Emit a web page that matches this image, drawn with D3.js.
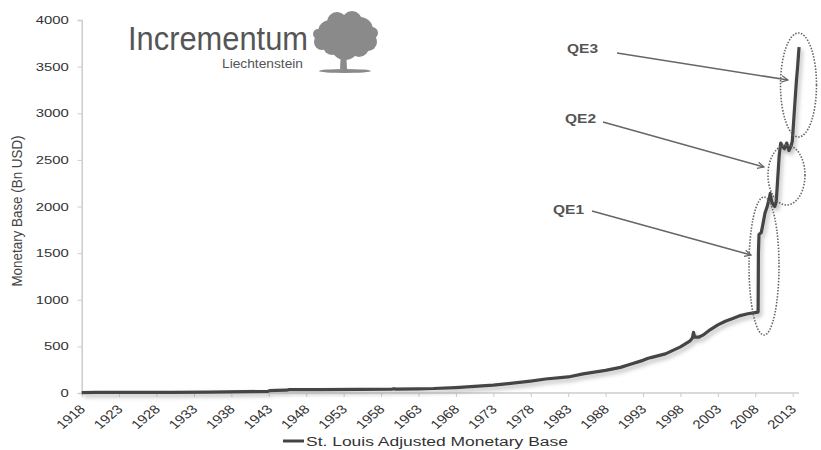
<!DOCTYPE html>
<html><head><meta charset="utf-8">
<script src="https://cdn.jsdelivr.net/npm/d3@7"></script>
<style>body{margin:0;background:#fff}svg{display:block;font-family:"Liberation Sans",Arial,sans-serif}</style>
</head><body><svg id="c" width="821" height="450"></svg>
<script>
// Data (decimal year, Bn USD)
const dates = [1918,1920,1925,1930,1935,1940,1942.9,1943.2,1944,1945.4,1945.7,1950,1955,1959.4,1959.7,1960,1963,1965,1968,1970,1973,1975,1978,1980,1983,1985,1988,1990,1991,1993,1993.7,1994.3,1996,1998,1999.3,1999.6,1999.75,1999.9,2000.5,2001,2002,2003,2004,2005,2006,2007,2008.36,
 2008.38,2008.42,2008.5,2008.8,2009.0,2009.3,2009.6,2009.9,2010.0,2010.2,2010.4,2010.6,2010.8,2011.0,2011.2,2011.4,2011.6,2011.9,2012.2,2012.5,2012.8,2012.95,2013.2,2013.5,2013.65,2013.85];
const values = [5,6,6,7,9,14,18,26,28,30,36,37,38,40,46,41,45,48,58,68,84,100,128,150,172,205,242,275,300,350,372,385,420,495,560,590,650,600,600,620,680,730,770,800,830,850,868,
 875,1500,1700,1720,1800,1930,2000,2100,2140,2050,2020,2000,2050,2300,2550,2680,2650,2620,2680,2600,2650,2700,3000,3350,3490,3710];
const yTicks = [0,500,1000,1500,2000,2500,3000,3500,4000];
const xTicks = d3.range(1918, 2014, 5);
const annotations = [
  {label:"QE1", lx:553, ly:214, x1:592, y1:211, x2:751, y2:255, cx:764, cy:266, rx:15, ry:69},
  {label:"QE2", lx:565, ly:123, x1:603, y1:122, x2:764, y2:167, cx:786.5, cy:175, rx:18.5, ry:30},
  {label:"QE3", lx:567, ly:53, x1:617, y1:53, x2:788, y2:80, cx:798.5, cy:85, rx:18, ry:52}
];
const seriesName = "St. Louis Adjusted Monetary Base";

const SX = 1.35; // horizontal stretch of the original picture's text
const svg = d3.select("#c");
const x = d3.scaleLinear().domain([1918, 2013]).range([81.7, 792.7]);
const y = d3.scaleLinear().domain([0, 4000]).range([393, 20]);

const defs = svg.append("defs");
const f = defs.append("filter").attr("id","sh").attr("x","-10%").attr("y","-10%").attr("width","130%").attr("height","130%");
f.append("feDropShadow").attr("dx",2).attr("dy",3).attr("stdDeviation",2).attr("flood-color","#888").attr("flood-opacity",0.6);
const mk = defs.append("marker").attr("id","arr").attr("viewBox","0 0 10 10").attr("refX",9).attr("refY",5)
  .attr("markerWidth",8).attr("markerHeight",8).attr("orient","auto").attr("markerUnits","userSpaceOnUse");
mk.append("path").attr("d","M1,1 L9,5 L1,9").attr("fill","none").attr("stroke","#666").attr("stroke-width",1.5);

// Y axis
const ya = svg.append("g").attr("transform","translate(81.7,0)").call(d3.axisLeft(y).tickValues(yTicks).tickFormat(d3.format("d")).tickSize(4));
ya.select(".domain").attr("stroke","#ccc").attr("stroke-width",1.5);
ya.selectAll(".tick line").attr("stroke","#ccc");
ya.selectAll("text").attr("fill","#333").attr("font-size","11px").attr("font-family","Liberation Sans, Arial")
  .attr("x",0).attr("transform",`translate(-13,0) scale(${SX},1)`);

// X axis
const xa = svg.append("g").attr("transform","translate(0,393)").call(d3.axisBottom(x).tickValues(xTicks).tickFormat(d3.format("d")).tickSize(4).tickSizeOuter(0));
xa.select(".domain").attr("stroke","#ccc").attr("stroke-width",1.5).attr("d","M81.7,0H799");
xa.selectAll(".tick line").attr("stroke","#ccc");
xa.selectAll("text").attr("fill","#333").attr("font-size","12.5px").attr("font-family","Liberation Sans, Arial")
  .attr("text-anchor","end").attr("y",0).attr("dy",0).attr("transform",`translate(4,17) scale(1.2,1) rotate(-45)`);

// Y label
svg.append("text").attr("transform",`translate(22,211) scale(1.1,1) rotate(-90)`).attr("text-anchor","middle")
  .attr("font-size","13.4px").attr("fill","#444").text("Monetary Base (Bn USD)");

// Line
const pts = dates.map((d,i)=>[d, values[i]]);
svg.append("path").datum(pts).attr("fill","none").attr("stroke","#444").attr("stroke-width",3.2).attr("stroke-linejoin","round")
  .attr("filter","url(#sh)").attr("d", d3.line().x(d=>x(d[0])).y(d=>y(d[1])));

// Annotations
const ag = svg.append("g");
annotations.forEach(a=>{
  ag.append("ellipse").attr("cx",a.cx).attr("cy",a.cy).attr("rx",a.rx).attr("ry",a.ry)
    .attr("fill","none").attr("stroke","#666").attr("stroke-width",1.6).attr("stroke-dasharray","1.5,1.5");
  ag.append("line").attr("x1",a.x1).attr("y1",a.y1).attr("x2",a.x2).attr("y2",a.y2)
    .attr("stroke","#666").attr("stroke-width",1.6).attr("marker-end","url(#arr)");
  ag.append("text").attr("transform",`translate(${a.lx},${a.ly}) scale(1.15,1)`).attr("font-size","13.5px")
    .attr("font-weight","bold").attr("fill","#555").text(a.label);
});

// Legend
svg.append("line").attr("x1",283).attr("x2",304).attr("y1",441).attr("y2",441).attr("stroke","#444").attr("stroke-width",3);
svg.append("text").attr("x",306).attr("y",446).attr("font-size","12.5px").attr("fill","#333")
  .attr("textLength",262).attr("lengthAdjust","spacingAndGlyphs").text(seriesName);

// Logo
const lg = svg.append("g");
lg.append("text").attr("x",128).attr("y",50).attr("font-size","33px").attr("fill","#555")
  .attr("textLength",180).attr("lengthAdjust","spacingAndGlyphs").text("Incrementum");
lg.append("text").attr("x",222).attr("y",68).attr("font-size","12.5px").attr("fill","#555")
  .attr("textLength",81).attr("lengthAdjust","spacingAndGlyphs").text("Liechtenstein");
const tree = lg.append("g").attr("fill","#8a8a8a");
[[345,35,20],[330,32,12],[360,30,13],[337,22,10],[352,21,10],[322,42,8],[368,42,9],[345,46,14],[332,46,9],[359,47,10],[372,33,6],[318,34,5]]
  .forEach(c=>tree.append("circle").attr("cx",c[0]).attr("cy",c[1]).attr("r",c[2]));
tree.append("path").attr("d","M341,50 L340,69 L347,69 L346,50 Z");
tree.append("ellipse").attr("cx",345).attr("cy",71).attr("rx",26).attr("ry",2);
</script></body></html>
